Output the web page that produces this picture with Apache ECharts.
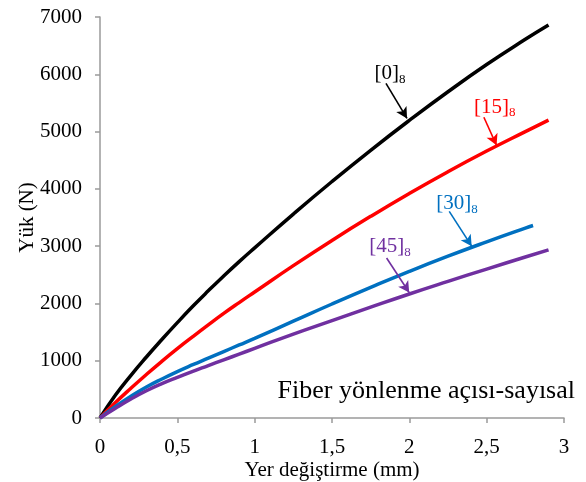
<!DOCTYPE html>
<html>
<head>
<meta charset="utf-8">
<script src="https://cdn.jsdelivr.net/npm/echarts@6/dist/echarts.min.js"></script>
<style>
  html, body { margin: 0; padding: 0; background: #fff; }
  #chart { width: 586px; height: 482px; }
</style>
</head>
<body>
<div id="chart"></div>
<script>
// yer değiştirme (mm)
const dispX = [0, 0.1, 0.2, 0.3, 0.4, 0.5, 0.6, 0.7, 0.8, 0.9, 1.0, 1.25, 1.5, 1.75, 2.0, 2.25, 2.5, 2.75, 2.9]
const dispX30 = [0, 0.1, 0.2, 0.3, 0.4, 0.5, 0.6, 0.7, 0.8, 0.9, 1.0, 1.25, 1.5, 1.75, 2.0, 2.25, 2.5, 2.75, 2.8]

// yük (N)
const load0 = [0, 400, 745, 1065, 1370, 1665, 1950, 2220, 2480, 2730, 2970, 3560, 4128, 4673, 5195, 5695, 6170, 6610, 6860]
const load15 = [0, 270, 520, 760, 990, 1210, 1420, 1625, 1825, 2015, 2200, 2660, 3100, 3520, 3920, 4300, 4660, 5000, 5200]
const load30 = [0, 200, 380, 540, 680, 810, 930, 1045, 1160, 1275, 1390, 1690, 1990, 2280, 2560, 2825, 3075, 3315, 3360]
const load45 = [0, 170, 330, 475, 600, 710, 815, 915, 1015, 1115, 1215, 1465, 1700, 1935, 2165, 2385, 2600, 2810, 2935]

const seriesNames = ['[0]', '[15]', '[30]', '[45]']
const seriesColors = ['#000000', '#ff0000', '#0070c0', '#7030a0']

// etiket konumu, ok başlangıcı, ok ucu (veri koordinatı)
const labelPos = [[1.875, 6010], [2.553, 5420], [2.308, 3740], [1.875, 2990]]
const arrowFrom = [[1.849, 5840], [2.482, 5250], [2.258, 3606], [1.853, 2792]]
const arrowTo = [[1.985, 5230], [2.564, 4760], [2.403, 3000], [1.999, 2190]]

const xTicks = { min: 0, max: 3, interval: 0.5 }
const yTicks = { min: 0, max: 7000, interval: 1000 }

const font = 'Liberation Serif'

function zip(xs, ys) {
  return xs.map((x, i) => [x, ys[i]])
}

const seriesData = [
  zip(dispX, load0),
  zip(dispX, load15),
  zip(dispX30, load30),
  zip(dispX, load45)
]

const chart = echarts.init(document.getElementById('chart'))

const series = seriesData.map((data, i) => ({
  name: seriesNames[i],
  type: 'line',
  data: data,
  smooth: true,
  showSymbol: false,
  lineStyle: { color: seriesColors[i], width: 3.5 },
  z: 3,
  markLine: {
    silent: true,
    symbol: ['none', 'arrow'],
    symbolSize: [9, 11],
    label: { show: false },
    lineStyle: { color: seriesColors[i], width: 1.6, type: 'solid' },
    data: [[{ coord: arrowFrom[i] }, { coord: arrowTo[i] }]]
  },
  markPoint: {
    silent: true,
    symbol: 'circle',
    symbolSize: 0,
    data: [{
      coord: labelPos[i],
      label: {
        show: true,
        position: 'inside',
        formatter: '{m|' + seriesNames[i] + '}{s|8}',
        rich: {
          m: { fontFamily: font, fontSize: 21, color: seriesColors[i], lineHeight: 24 },
          s: { fontFamily: font, fontSize: 13, color: seriesColors[i], lineHeight: 24, verticalAlign: 'bottom' }
        }
      }
    }]
  }
}))

const option = {
  backgroundColor: '#fff',
  animation: false,
  title: {
    text: 'Fiber yönlenme açısı-sayısal',
    right: 11,
    top: 378,
    padding: 0,
    textStyle: { fontFamily: font, fontSize: 26, fontWeight: 'normal', color: '#000' }
  },
  grid: { left: 100, right: 22, top: 17, bottom: 64, containLabel: false, outerBoundsMode: 'none' },
  xAxis: {
    type: 'value',
    min: xTicks.min,
    max: xTicks.max,
    interval: xTicks.interval,
    name: 'Yer değiştirme (mm)',
    nameLocation: 'middle',
    nameGap: 42,
    nameMoveOverlap: false,
    nameTextStyle: { fontFamily: font, fontSize: 21, color: '#000' },
    axisLine: { lineStyle: { color: '#9a9a9a', width: 1.5 } },
    axisTick: { show: true, inside: false, length: 5, lineStyle: { color: '#9a9a9a', width: 1.5 } },
    axisLabel: {
      fontFamily: font, fontSize: 21, color: '#000', margin: 19,
      formatter: v => String(v).replace('.', ',')
    },
    splitLine: { show: false }
  },
  yAxis: {
    type: 'value',
    min: yTicks.min,
    max: yTicks.max,
    interval: yTicks.interval,
    name: 'Yük (N)',
    nameLocation: 'middle',
    nameGap: 62,
    nameMoveOverlap: false,
    nameTextStyle: { fontFamily: font, fontSize: 21, color: '#000' },
    axisLine: { show: true, lineStyle: { color: '#9a9a9a', width: 1.5 } },
    axisTick: { show: true, inside: false, length: 5, lineStyle: { color: '#9a9a9a', width: 1.5 } },
    axisLabel: { fontFamily: font, fontSize: 21, color: '#000', margin: 18, formatter: v => String(v) },
    splitLine: { show: false }
  },
  series: series
}

chart.setOption(option)
</script>
</body>
</html>
